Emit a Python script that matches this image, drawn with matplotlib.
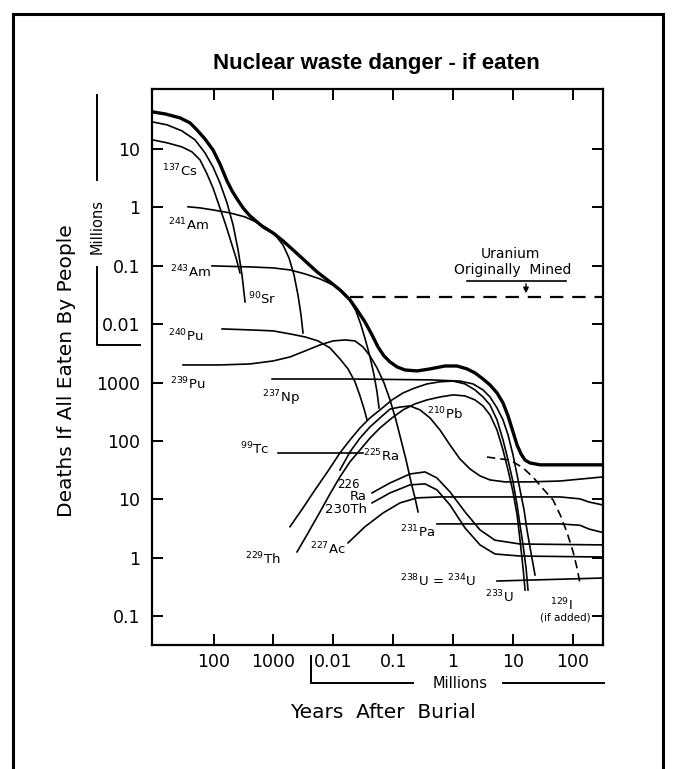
import matplotlib.pyplot as plt
import matplotlib.ticker as mticker
from matplotlib.lines import Line2D
from matplotlib.patches import Rectangle

plt.rcParams['font.family'] = ['DejaVu Sans']
plt.rcParams['mathtext.default'] = 'regular'

# ---- data (years after burial, deaths if all eaten) ----
total_years = [9.5, 15.5, 27.6, 40.5, 53, 72, 98, 128, 168, 204, 247, 311, 406, 532, 670, 984,
               1445, 2120, 3370, 5350, 8810, 1.29e4, 1.9e4, 2.49e4, 3.38e4, 4.43e4, 5.57e4,
               7.02e4, 8.85e4, 1.16e5, 1.57e5, 2.5e5, 4.11e5, 7.33e5, 1.16e6, 1.71e6, 2.32e6,
               3.16e6, 4.13e6, 5.41e6, 6.81e6, 8.26e6, 1.0e7, 1.17e7, 1.36e7, 1.59e7, 1.92e7,
               2.83e7, 3.18e8]
total_deaths = [4.31e7, 3.97e7, 3.40e7, 2.79e7, 2.11e7, 1.48e7, 9.6e6, 5.53e6, 2.83e6, 1.91e6,
                1.39e6, 9.77e5, 7.13e5, 5.62e5, 4.62e5, 3.65e5, 2.66e5, 1.87e5, 1.21e5, 7.84e4,
                5.28e4, 3.86e4, 2.60e4, 1.75e4, 1.09e4, 6.53e3, 4.07e3, 2.85e3, 2.25e3, 1.85e3,
                1.64e3, 1.58e3, 1.71e3, 1.92e3, 1.92e3, 1.71e3, 1.46e3, 1.15e3, 910, 664, 448,
                268, 143, 85, 60, 47, 42, 39, 39]

cs137_years = [9.5, 16.8, 29.8, 43.7, 59.5, 77.9, 98, 128, 162, 196, 238, 277]
cs137_deaths = [1.43e7, 1.27e7, 1.08e7, 8.89e6, 6.49e6, 3.73e6, 2.15e6, 9.77e5, 4.81e5,
                2.56e5, 1.36e5, 7.53e4]

sr90_years = [9.5, 16.8, 29.8, 49.1, 72, 98, 128, 168, 212, 257, 299, 336]
sr90_deaths = [2.90e7, 2.58e7, 2.03e7, 1.43e7, 8.55e6, 4.92e6, 2.62e6, 1.19e6, 5.0e5, 1.87e5,
               6.95e4, 2.40e4]

am241_years = [37.5, 59.5, 98, 188, 336, 553, 812, 1100, 1445, 1820, 2210, 2570, 2890, 3120]
am241_deaths = [1.02e6, 9.77e5, 9.02e5, 8.01e5, 6.85e5, 5.41e5, 4.27e5, 3.24e5, 2.27e5,
                1.36e5, 6.95e4, 3.16e4, 1.44e4, 7.06e3]

am243_years = [94.4, 406, 984, 1890, 3370, 6000, 9890, 1.45e4, 1.9e4, 2.39e4, 2.9e4, 3.51e4,
               4.1e4, 4.78e4, 5.37e4, 5.8e4]
am243_deaths = [9.93e4, 9.54e4, 9.17e4, 8.47e4, 7.24e4, 5.94e4, 4.69e4, 3.56e4, 2.55e4, 1.68e4,
                9.68e3, 4.95e3, 2.74e3, 1.35e3, 690, 367]

pu240_years = [139, 406, 984, 1890, 3370, 5560, 8810, 1.29e4, 1.76e4, 2.3e4, 2.79e4, 3.26e4, 3.66e4]
pu240_deaths = [8.28e3, 7.96e3, 7.66e3, 6.8e3, 6.04e3, 5.16e3, 3.91e3, 2.54e3, 1.71e3, 1.03e3,
                590, 353, 229]

pu239_years = [31, 128, 406, 984, 1890, 3370, 6000, 9890, 1.57e4, 2.3e4, 3.13e4, 4.1e4, 5.37e4,
               7.02e4, 8.85e4, 1.11e5, 1.35e5, 1.64e5, 1.98e5, 2.31e5, 2.6e5]
pu239_deaths = [2.0e3, 2.0e3, 2.08e3, 2.34e3, 2.74e3, 3.47e3, 4.41e3, 5.16e3, 5.36e3, 5.16e3,
                4.07e3, 2.85e3, 1.78e3, 985, 504, 229, 104, 47.3, 19.9, 10.6, 6.1]

np237_years = [950, 1.9e4, 4.11e5, 1.3e6, 2.15e6, 3.16e6, 4.13e6, 5.41e6, 6.81e6, 8.26e6, 1.0e7,
               1.17e7, 1.31e7, 1.53e7, 1.71e7, 2.0e7, 2.33e7]
np237_deaths = [1150, 1150, 1110, 1060, 947, 747, 566, 367, 229, 127, 57.6, 26.2, 14.5, 6.58,
                2.99, 1.21, 0.507]

u233_years = [1890, 3120, 4940, 8170, 1.29e4, 1.9e4, 2.79e4, 4.1e4, 6.02e4, 9.55e4, 1.46e5,
              2.31e5, 3.67e5, 6.04e5, 9.96e5, 1.58e6, 2.32e6, 3.16e6, 4.13e6, 5.41e6, 6.81e6,
              8.26e6, 1.0e7, 1.17e7, 1.31e7, 1.47e7, 1.65e7, 1.78e7]
u233_deaths = [3.4, 7.13, 14.5, 30.6, 62.4, 104, 167, 248, 340, 504, 664, 809, 947, 1030, 1060,
               947, 747, 566, 413, 229, 104, 47.3, 19.9, 8.0, 3.6, 1.66, 0.674, 0.28]

th229_years = [2480, 3790, 6000, 8810, 1.29e4, 1.9e4, 2.79e4, 4.1e4, 6.02e4, 9.55e4, 1.46e5,
               2.31e5, 3.67e5, 6.04e5, 9.96e5, 1.58e6, 2.32e6, 3.16e6, 4.13e6, 5.41e6, 6.81e6,
               8.26e6, 1.0e7, 1.17e7, 1.31e7, 1.47e7, 1.59e7]
th229_deaths = [1.26, 2.66, 6.1, 12.4, 24.2, 44, 70, 112, 167, 248, 340, 431, 504, 566, 614, 590,
                504, 397, 279, 154, 70, 31.8, 13.4, 5.4, 2.0, 0.674, 0.28]

tc99_years = [1190, 3.1e4]
tc99_deaths = [62, 62]

pb210_years = [1.29e4, 1.9e4, 2.79e4, 4.1e4, 6.02e4, 8.85e4, 1.3e5, 1.91e5, 2.8e5, 4.11e5, 6.04e5,
               8.88e5, 1.3e6, 1.91e6, 2.81e6, 4.13e6, 7.34e6, 1.92e7, 6.09e7, 3.18e8]
pb210_deaths = [31.8, 64.9, 112, 174, 248, 351, 380, 397, 340, 248, 154, 85, 49.2, 33.2, 25.2,
                21.5, 19.9, 19.9, 20.6, 24.2]

ra226_years = [4.43e4, 8.85e4, 1.91e5, 3.4e5, 5.38e5, 8.88e5, 1.58e6, 2.81e6, 5.0e6, 1.31e7, 3.18e8]
ra226_deaths = [12.9, 19.1, 27.2, 29.5, 23.2, 13.4, 6.1, 3.0, 2.0, 1.72, 1.66]

th230_years = [4.43e4, 8.85e4, 1.91e5, 3.4e5, 5.38e5, 8.88e5, 1.58e6, 2.81e6, 5.0e6, 1.31e7, 3.18e8]
th230_deaths = [8.7, 12.9, 17.7, 18.4, 14.5, 8.0, 3.24, 1.66, 1.16, 1.07, 1.03]

ac227_years = [1.76e4, 3.38e4, 6.77e4, 1.3e5, 2.5e5, 6.04e5, 6.07e6, 6.09e7, 1.31e8, 1.86e8, 3.18e8]
ac227_deaths = [1.8, 3.4, 5.85, 8.7, 10.6, 11.0, 11.0, 11.0, 10.2, 9.0, 8.0]

pa231_years = [5.38e5, 6.09e7, 1.31e8, 1.86e8, 3.18e8]
pa231_deaths = [3.8, 3.8, 3.6, 3.1, 2.7]

u238_years = [5.41e6, 3.18e8]
u238_deaths = [0.40, 0.45]

i129_years = [3.68e6, 8.9e6, 1.45e7, 2.16e7, 3.2e7, 4.65e7, 6.2e7, 7.98e7, 1.0e8, 1.17e8, 1.31e8]
i129_deaths = [53, 47, 35, 24, 15, 9.8, 5.3, 2.7, 1.3, 0.67, 0.37]

uranium_years = [1.9e4, 3.18e8]
uranium_deaths = [2.9e4, 2.9e4]

x_ticks = [1e2, 1e3, 1e4, 1e5, 1e6, 1e7, 1e8]
x_tick_labels = ['100', '1000', '0.01', '0.1', '1', '10', '100']
y_ticks = [1e7, 1e6, 1e5, 1e4, 1e3, 1e2, 1e1, 1, 0.1]
y_tick_labels = ['10', '1', '0.1', '0.01', '1000', '100', '10', '1', '0.1']

thin_curves = [
    (cs137_years, cs137_deaths), (sr90_years, sr90_deaths), (am241_years, am241_deaths),
    (am243_years, am243_deaths), (pu240_years, pu240_deaths), (pu239_years, pu239_deaths),
    (np237_years, np237_deaths), (u233_years, u233_deaths), (th229_years, th229_deaths),
    (tc99_years, tc99_deaths), (pb210_years, pb210_deaths), (ra226_years, ra226_deaths),
    (th230_years, th230_deaths), (ac227_years, ac227_deaths), (pa231_years, pa231_deaths),
    (u238_years, u238_deaths),
]

# ---- figure ----
W, H = 676, 769
fig = plt.figure(figsize=(W / 100, H / 100), dpi=100)
ax = fig.add_axes([152 / W, 1 - 645 / H, 451 / W, 556 / H])


def fx(px):
    return px / W


def fy(py):
    return 1 - py / H


for yrs, d in thin_curves:
    ax.plot(yrs, d, color='black', lw=1.2, solid_joinstyle='round')
ax.plot(total_years, total_deaths, color='black', lw=2.4, solid_joinstyle='round')
ax.plot(i129_years, i129_deaths, color='black', lw=1.2, dashes=(5, 3))
ax.plot(uranium_years, uranium_deaths, color='black', lw=1.6, dashes=(6, 4))

ax.set_xscale('log')
ax.set_yscale('log')
ax.set_xlim(9.4, 3.18e8)
ax.set_ylim(0.0321, 1.06e8)
ax.set_xticks(x_ticks)
ax.set_xticklabels(x_tick_labels)
ax.set_yticks(y_ticks)
ax.set_yticklabels(y_tick_labels)
ax.xaxis.set_minor_locator(mticker.NullLocator())
ax.yaxis.set_minor_locator(mticker.NullLocator())
ax.tick_params(axis='both', which='major', direction='in', length=8, width=1.4,
               top=True, right=True, labelsize=12.5)
ax.tick_params(axis='x', pad=6)
ax.tick_params(axis='y', pad=8.5)
for s in ax.spines.values():
    s.set_linewidth(1.6)

# title and axis titles
fig.text(fx(376), fy(63), 'Nuclear waste danger - if eaten', ha='center', va='center',
         fontsize=16, fontweight='bold', family='Liberation Sans')
fig.text(fx(67), fy(371), 'Deaths If All Eaten By People', rotation=90,
         ha='center', va='center', fontsize=14.5)
fig.text(fx(383), fy(713), 'Years  After  Burial', ha='center', va='center', fontsize=14.5)


def fig_line(xs, ys, lw=1.4):
    fig.add_artist(Line2D([fx(v) for v in xs], [fy(v) for v in ys],
                          transform=fig.transFigure, color='black', lw=lw))


# "Millions" brackets
fig_line([97, 97], [95, 180])
fig_line([97, 97, 140], [267, 345, 345])
fig.text(fx(97), fy(226), 'Millions', rotation=90, ha='center', va='center', fontsize=10.5)
fig_line([311, 311, 413], [656, 683, 683])
fig_line([503, 604], [683, 683])
fig.text(fx(460), fy(684), 'Millions', ha='center', va='center', fontsize=10.5)

# uranium originally mined
fig.text(fx(510), fy(254), 'Uranium', ha='center', va='center', fontsize=10)
fig.text(fx(513), fy(270), 'Originally  Mined', ha='center', va='center', fontsize=10)
fig_line([467, 566], [281, 281], lw=1.2)
ax.annotate('', xy=(fx(526), fy(296)), xycoords='figure fraction',
            xytext=(fx(526), fy(281)), textcoords='figure fraction',
            arrowprops=dict(arrowstyle='-|>', color='black', lw=1.0, mutation_scale=8))

# isotope labels: (left px, baseline px, text)
iso_labels = [
    (162, 176, '$^{137}$Cs'), (168, 230, '$^{241}$Am'), (170, 277, '$^{243}$Am'),
    (248, 304, '$^{90}$Sr'), (168, 341, '$^{240}$Pu'), (170, 389, '$^{239}$Pu'),
    (262, 402, '$^{237}$Np'), (240, 454, '$^{99}$Tc'), (245, 564, '$^{229}$Th'),
    (310, 554, '$^{227}$Ac'), (363, 461, '$^{225}$Ra'), (325, 513, '230Th'),
    (400, 537, '$^{231}$Pa'), (427, 419, '$^{210}$Pb'), (400, 586, '$^{238}$U = $^{234}$U'),
    (485, 602, '$^{233}$U'), (550, 610, '$^{129}$I'),
]
for px, py, t in iso_labels:
    fig.text(fx(px), fy(py), t, ha='left', va='baseline', fontsize=9.5)
fig.text(fx(337), fy(488), '226', ha='left', va='baseline', fontsize=8.5)
fig.text(fx(350), fy(500), 'Ra', ha='left', va='baseline', fontsize=9.5)
fig.text(fx(565), fy(618), '(if added)', ha='center', va='center', fontsize=7.5)

# page frame
fig.add_artist(Rectangle((fx(13), fy(790)), fx(663) - fx(13), fy(14) - fy(790),
                         transform=fig.transFigure, fill=False, lw=2.2, edgecolor='black'))

fig.savefig('out.png', dpi=100)
